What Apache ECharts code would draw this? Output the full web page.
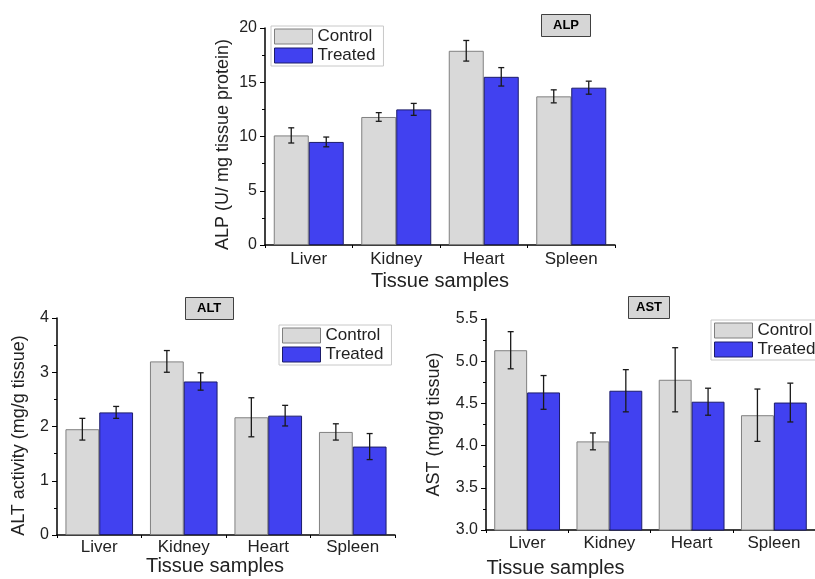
<!DOCTYPE html>
<html>
<head>
<meta charset="utf-8">
<script src="https://cdn.jsdelivr.net/npm/echarts@6/dist/echarts.min.js"></script>
<style>html,body{margin:0;padding:0;background:#fff}#c{width:815px;height:579px}</style>
</head>
<body>
<div id="c"></div>
<script>
const categories = ['Liver', 'Kidney', 'Heart', 'Spleen'];
const groupNames = ['Control', 'Treated'];

const alpControl = [10.1, 11.8, 17.9, 13.7];
const alpControlErr = [0.7, 0.4, 0.95, 0.6];
const alpTreated = [9.5, 12.5, 15.5, 14.5];
const alpTreatedErr = [0.45, 0.55, 0.85, 0.6];

const altControl = [1.95, 3.2, 2.17, 1.9];
const altControlErr = [0.2, 0.2, 0.36, 0.15];
const altTreated = [2.26, 2.83, 2.2, 1.63];
const altTreatedErr = [0.11, 0.16, 0.19, 0.24];

const astControl = [5.13, 4.05, 4.78, 4.36];
const astControlErr = [0.22, 0.1, 0.38, 0.31];
const astTreated = [4.63, 4.65, 4.52, 4.51];
const astTreatedErr = [0.2, 0.25, 0.16, 0.23];

const FONT = 'Liberation Sans, Arial, sans-serif';
const CONTROL_COLOR = '#d9d9d9';
const TREATED_COLOR = '#4141f0';

const panels = [
  {title: 'ALP', yName: 'ALP (U/ mg tissue protein)', min: 0, max: 20, interval: 5, dec: 0,
   control: alpControl, controlErr: alpControlErr, treated: alpTreated, treatedErr: alpTreatedErr,
   grid: {left: 265, right: 200, top: 28, bottom: 334}, yNameGap: 33, yNamePad: [0, 16, 0, 0],
   xNameGap: 26, xNamePad: [0, 0, 0, 0], labelMargin: 6,
   legend: {left: 271, top: 26}, titlePos: {left: 541, top: 14}, titlePad: [5, 12]},
  {title: 'ALT', yName: 'ALT activity (mg/g tissue)', min: 0, max: 4, interval: 1, dec: 0,
   control: altControl, controlErr: altControlErr, treated: altTreated, treatedErr: altTreatedErr,
   grid: {left: 57, right: 420, top: 318, bottom: 44}, yNameGap: 29, yNamePad: [0, 18, 0, 0],
   xNameGap: 21, xNamePad: [0, 22, 0, 0], labelMargin: 4,
   legend: {left: 279, top: 325}, titlePos: {left: 185, top: 297}, titlePad: [5, 12]},
  {title: 'AST', yName: 'AST (mg/g tissue)', min: 3.0, max: 5.5, interval: 0.5, dec: 1,
   control: astControl, controlErr: astControlErr, treated: astTreated, treatedErr: astTreatedErr,
   grid: {left: 486, right: -9, top: 319, bottom: 46}, yNameGap: 43, yNamePad: [0, 0, 0, 0],
   xNameGap: 28, xNamePad: [0, 190, 0, 0], labelMargin: 5,
   legend: {left: 711, top: 320}, titlePos: {left: 628, top: 296}, titlePad: [5, 8]}
];

function errRenderer(sign) {
  return function (params, api) {
    const idx = api.value(0);
    const v = api.value(1);
    const e = api.value(2);
    const bw = api.size([1, 0])[0];
    const off = sign * bw * 0.2;
    const top = api.coord([idx, v + e]);
    const bot = api.coord([idx, v - e]);
    const x = top[0] + off;
    const cap = 3;
    const style = {stroke: '#1a1a1a', lineWidth: 1.3};
    return {
      type: 'group',
      children: [
        {type: 'line', shape: {x1: x, y1: top[1], x2: x, y2: bot[1]}, style: style},
        {type: 'line', shape: {x1: x - cap, y1: top[1], x2: x + cap, y2: top[1]}, style: style},
        {type: 'line', shape: {x1: x - cap, y1: bot[1], x2: x + cap, y2: bot[1]}, style: style}
      ]
    };
  };
}

const option = {
  backgroundColor: '#ffffff',
  animation: false,
  textStyle: {fontFamily: FONT},
  title: [], legend: [], grid: [], xAxis: [], yAxis: [], series: []
};

panels.forEach(function (p, i) {
  option.title.push({
    text: p.title, left: p.titlePos.left, top: p.titlePos.top,
    padding: p.titlePad, backgroundColor: '#d6d6d6', borderColor: '#404040', borderWidth: 1,
    textStyle: {fontFamily: FONT, fontSize: 13, fontWeight: 'bold', color: '#000'}
  });
  option.legend.push({
    data: groupNames, orient: 'vertical', left: p.legend.left, top: p.legend.top,
    itemWidth: 38, itemHeight: 15, itemGap: 2, icon: 'rect', selectedMode: false,
    itemStyle: {borderWidth: 1},
    padding: [2, 8, 2, 3], borderColor: '#c8c8c8', borderWidth: 1, backgroundColor: '#fff',
    textStyle: {fontFamily: FONT, fontSize: 17, color: '#222', padding: [0, 0, 0, 0]}
  });
  option.grid.push(Object.assign({containLabel: false}, p.grid));
  option.xAxis.push({
    type: 'category', gridIndex: i, data: categories,
    name: 'Tissue samples', nameLocation: 'middle', nameGap: p.xNameGap,
    nameTextStyle: {fontFamily: FONT, fontSize: 20, color: '#222', padding: p.xNamePad},
    axisLine: {lineStyle: {color: '#000', width: 1.5}},
    axisTick: {show: true, alignWithLabel: false, length: 3, lineStyle: {color: '#000'}},
    axisLabel: {fontFamily: FONT, fontSize: 17, color: '#222', margin: p.labelMargin}
  });
  option.yAxis.push({
    type: 'value', gridIndex: i, min: p.min, max: p.max, interval: p.interval,
    name: p.yName, nameLocation: 'middle', nameGap: p.yNameGap,
    nameTextStyle: {fontFamily: FONT, fontSize: 18, color: '#222', padding: p.yNamePad},
    axisLine: {show: true, lineStyle: {color: '#000', width: 1.5}},
    axisTick: {show: true, inside: false, length: 5, lineStyle: {color: '#000'}},
    minorTick: {show: true, splitNumber: 2, length: 3, lineStyle: {color: '#000'}},
    splitLine: {show: false},
    axisLabel: {fontFamily: FONT, fontSize: 16, color: '#222', margin: 8,
      formatter: function (v) { return v.toFixed(p.dec); }}
  });
  option.series.push({
    type: 'bar', name: 'Control', xAxisIndex: i, yAxisIndex: i, data: p.control,
    barGap: '0%', barCategoryGap: '20%',
    itemStyle: {color: CONTROL_COLOR, borderColor: '#808080', borderWidth: 1}
  });
  option.series.push({
    type: 'bar', name: 'Treated', xAxisIndex: i, yAxisIndex: i, data: p.treated,
    barGap: '0%', barCategoryGap: '20%',
    itemStyle: {color: TREATED_COLOR, borderColor: '#1c1c6a', borderWidth: 1}
  });
  option.series.push({
    type: 'custom', name: 'Control err', xAxisIndex: i, yAxisIndex: i, z: 5,
    renderItem: errRenderer(-1), encode: {x: 0, y: 1},
    data: p.control.map(function (v, k) { return [k, v, p.controlErr[k]]; })
  });
  option.series.push({
    type: 'custom', name: 'Treated err', xAxisIndex: i, yAxisIndex: i, z: 5,
    renderItem: errRenderer(1), encode: {x: 0, y: 1},
    data: p.treated.map(function (v, k) { return [k, v, p.treatedErr[k]]; })
  });
});

const chart = echarts.init(document.getElementById('c'), null, {renderer: 'canvas'});
chart.setOption(option);
</script>
</body>
</html>
